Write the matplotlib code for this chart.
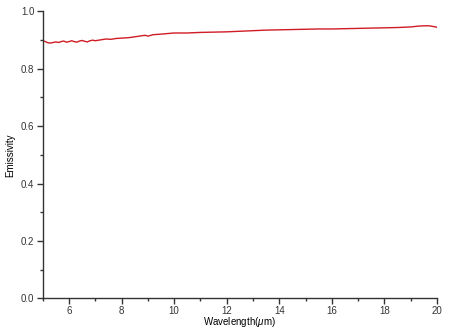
import matplotlib
matplotlib.use("Agg")
import matplotlib.pyplot as plt
from matplotlib.ticker import MultipleLocator

plt.rcParams['font.family'] = ['Liberation Sans', 'DejaVu Sans']
plt.rcParams['mathtext.fontset'] = 'custom'
plt.rcParams['mathtext.it'] = 'Liberation Sans:italic'

# wavelength (um) and emissivity
wavelength = [5.0, 5.1, 5.2, 5.3, 5.4, 5.5, 5.6, 5.7, 5.8, 5.9, 6.0, 6.1, 6.2, 6.3,
              6.4, 6.5, 6.6, 6.7, 6.8, 6.9, 7.0, 7.2, 7.4, 7.6, 7.8, 8.0, 8.3, 8.6,
              8.9, 9.0, 9.2, 9.5, 10.0, 10.5, 11.0, 11.5, 12.0, 12.5, 13.0, 13.5,
              14.0, 14.5, 15.0, 15.5, 16.0, 16.5, 17.0, 17.5, 18.0, 18.5, 19.0,
              19.3, 19.5, 19.7, 19.9, 20.0]
emissivity = [0.897, 0.894, 0.890, 0.889, 0.891, 0.893, 0.891, 0.894, 0.896, 0.892,
              0.894, 0.897, 0.894, 0.892, 0.896, 0.898, 0.895, 0.893, 0.897, 0.899,
              0.897, 0.900, 0.903, 0.902, 0.905, 0.906, 0.908, 0.912, 0.916, 0.913,
              0.918, 0.920, 0.924, 0.924, 0.926, 0.927, 0.928, 0.930, 0.932, 0.934,
              0.935, 0.936, 0.937, 0.938, 0.938, 0.939, 0.940, 0.941, 0.942, 0.943,
              0.945, 0.948, 0.949, 0.949, 0.946, 0.944]

fig = plt.figure(figsize=(4.59, 3.28), dpi=100)
ax = fig.add_axes([0.093, 0.090, 0.859, 0.876])

ax.plot(wavelength, emissivity, color="#d01c24", lw=1.0)

ax.set_xlim(5, 20)
ax.set_ylim(0, 1.0)
ax.xaxis.set_minor_locator(MultipleLocator(1))
ax.yaxis.set_major_locator(MultipleLocator(0.2))
ax.yaxis.set_minor_locator(MultipleLocator(0.1))
ax.set_xticks([6, 8, 10, 12, 14, 16, 18, 20])
ax.yaxis.set_major_formatter(plt.FormatStrFormatter("%.1f"))

for s in ["top", "right"]:
    ax.spines[s].set_visible(False)
for s in ["left", "bottom"]:
    ax.spines[s].set_color("#333333")
    ax.spines[s].set_linewidth(1.0)

ax.tick_params(which="major", direction="out", length=4, width=1, colors="#333333",
               labelsize=7, pad=2)
ax.tick_params(axis="x", which="major", pad=1.5)
ax.tick_params(which="minor", direction="out", length=2.5, width=1, colors="#333333")

ax.set_xlabel("Wavelength($\\mu$m)", fontsize=7, labelpad=-0.5)
ax.set_ylabel("Emissivity", fontsize=7, labelpad=4)

fig.savefig("out.png", dpi=100)
